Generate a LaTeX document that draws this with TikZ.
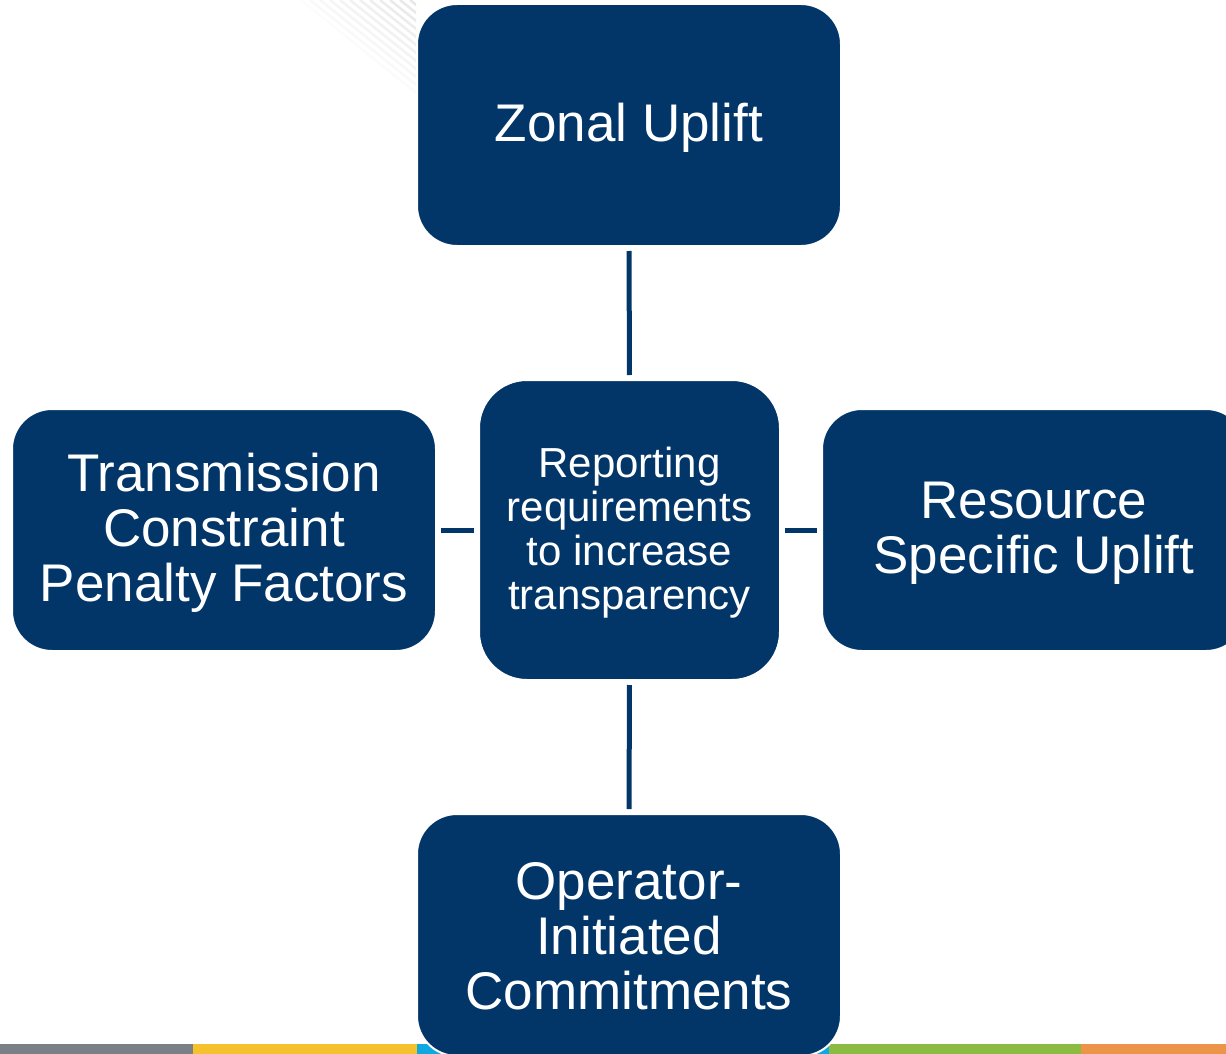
\documentclass[tikz,border=0pt]{standalone}
\usepackage{fontspec}
\setmainfont{Liberation Sans}
\definecolor{navy}{RGB}{2,53,104}
\definecolor{bgray}{RGB}{123,128,134}
\definecolor{byellow}{RGB}{245,194,46}
\definecolor{bcyan}{RGB}{16,168,224}
\definecolor{bgreen}{RGB}{140,187,68}
\definecolor{borange}{RGB}{236,148,72}
\definecolor{stripe}{RGB}{225,225,225}
\begin{document}
\begin{tikzpicture}[x=1pt,y=-1pt,
  box/.style={rectangle, rounded corners=40pt, fill=navy, draw=white, line width=2pt,
    minimum width=424pt, minimum height=242pt, inner sep=0pt},
  hub/.style={box, rounded corners=48pt, minimum width=301pt, minimum height=300pt},
  txt/.style={text=white, align=center, inner sep=0pt, font=\fontsize{53}{55}\selectfont},
  hubtxt/.style={txt, font=\fontsize{42}{44}\selectfont},
  link/.style={draw=navy, line width=5pt, shorten <=4pt, shorten >=4pt}]
\useasboundingbox (0,0) rectangle (1226,1054);
\clip (0,0) rectangle (1226,1054);
% faint background stripes
\begin{scope}
\clip (300,0) -- (416,0) -- (416,95) -- cycle;
\foreach \i in {0,...,11}{
  \pgfmathsetmacro{\op}{0.15+0.06*\i}
  \draw[stripe, line width=2.5pt, opacity=\op] (300+\i*10,0) -- ++(160,128);
}
\end{scope}
% bottom colour bar
\fill[bgray] (0,1044) rectangle (193,1054);
\fill[byellow] (193,1044) rectangle (417,1054);
\fill[bcyan] (417,1044) rectangle (829,1054);
\fill[bgreen] (829,1044) rectangle (1081,1054);
\fill[borange] (1081,1044) rectangle (1226,1054);
% nodes
\node[hub] (c) at (629.5,530) {};
\node[box] (z) at (629,125) {};
\node[box] (t) at (224,530) {};
\node[box] (r) at (1034,530) {};
\node[box] (o) at (629,935) {};
% texts
\node[hubtxt] (ct) at ([yshift=-3pt]c.center) {Reporting\\requirements\\to increase\\transparency};
\node[txt] (zt) at ([yshift=-3pt]z.center) {Zonal Uplift};
\node[txt] (tt) at ([yshift=-3pt]t.center) {Transmission\\Constraint\\Penalty Factors};
\node[txt] (rt) at ([yshift=-3pt]r.center) {Resource\\Specific Uplift};
\node[txt] (ot) at ([yshift=-1pt]o.center) {Operator-\\Initiated\\Commitments};
% connectors
\draw[link] (z.south) -- (c.north);
\draw[link] (c.south) -- (o.north);
\draw[link] (t.east) -- (c.west);
\draw[link] (c.east) -- (r.west);
\end{tikzpicture}
\end{document}
